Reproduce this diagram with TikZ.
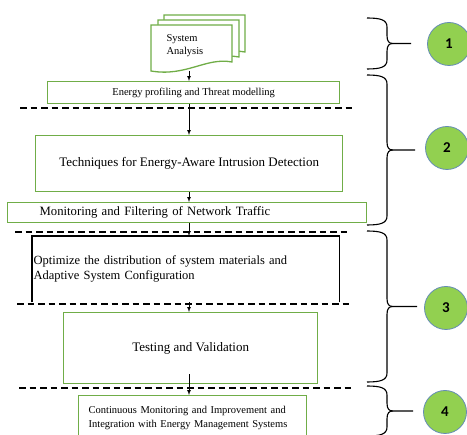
\documentclass[tikz,border=0pt]{standalone}
\usepackage{fontspec}
\setmainfont{Liberation Serif}
\newfontfamily\numfont{Carlito}
\usepackage{tikz}
\usetikzlibrary{positioning}
\definecolor{boxgreen}{RGB}{112,173,71}
\definecolor{phasefill}{RGB}{146,208,80}
\definecolor{phaseline}{RGB}{100,140,180}
\tikzset{
	stepbox/.style={draw=boxgreen, line width=1.3pt, anchor=north west, inner sep=0pt},
	phasecircle/.style={draw=phaseline, fill=phasefill, circle, line width=0.8pt, minimum size=43pt, inner sep=0pt, font=\numfont\bfseries\fontsize{15}{15}\selectfont},
	bracestyle/.style={draw=black, line width=1.1pt},
	separator/.style={draw=black, line width=1.2pt, dash pattern=on 6.5pt off 4pt},
	flow/.style={draw=black, line width=0.7pt, ->, >=latex}
}
\newcommand{\docsheet}[2]{
	% one sheet of the stack
	\path [draw=boxgreen, line width=1.3pt, fill=white] (#1,#2) -- (#1+81,#2) -- (#1+81,#2+37) .. controls (#1+55,#2+32) and (#1+35,#2+52) .. (#1,#2+46) -- cycle;
}
\newcommand{\phase}[4]{
	\node [phasecircle] (#1) at (#2, #3) {#4};
}
\newcommand{\phasebrace}[4]{
	% x, top, bottom, end of the tip
	\pgfmathsetmacro\bm{(#2+#3)/2}
	\path [bracestyle] (#1,#2) .. controls (#1+14,#2) and (#1+20,#2+2) .. (#1+20,#2+9) -- (#1+20,\bm-8) .. controls (#1+20,\bm-2) and (#1+22,\bm) .. (#1+26,\bm) -- (#4,\bm);
	\path [bracestyle] (#1+26,\bm) .. controls (#1+22,\bm) and (#1+20,\bm+2) .. (#1+20,\bm+8) -- (#1+20,#3-9) .. controls (#1+20,#3-2) and (#1+14,#3) .. (#1,#3);
}

\begin{document}
\begin{tikzpicture}[x=1pt, y=-1pt]
		\useasboundingbox (0,0) rectangle (467,435);
		\clip (0,0) rectangle (467,435);
		
		\docsheet{164}{15}
		\docsheet{158}{20}
		\docsheet{151}{25}
		\node [anchor=west, align=left, font=\fontsize{10.5}{13}\selectfont] (sysdoc) at (163,46) {System\\Analysis};
		\coordinate (docbot) at (189,71);
		
		\node [stepbox, minimum width=292pt, minimum height=22pt, font=\fontsize{10.5}{12}\selectfont] (energy) at (47,81) {Energy profiling and Threat modelling};
		\node [stepbox, minimum width=307pt, minimum height=56pt, font=\fontsize{13}{15}\selectfont] (techniques) at (35,135) {Techniques for Energy-Aware Intrusion Detection};
		\node [stepbox, minimum width=359pt, minimum height=20pt, inner xsep=32pt, text width=295pt, align=left, font=\fontsize{12.7}{15}\selectfont] (monitoring) at (7,202) {Monitoring and Filtering of Network Traffic};
		\node [stepbox, draw=none, minimum width=306pt, minimum height=65pt, inner xsep=1pt, text width=304pt, align=left, font=\fontsize{12.5}{15}\selectfont] (optimize) at (32,236) {Optimize the distribution of system materials and\\Adaptive System Configuration};
		\path [draw=black, line width=1.3pt] (optimize.south west) -- (optimize.north west);
		\path [draw=black, line width=1.3pt] (optimize.south east) -- (optimize.north east);
		\path [draw=black, line width=2.2pt] ([xshift=-0.6pt]optimize.north west) -- ([xshift=0.6pt]optimize.north east);
		\node [stepbox, minimum width=254pt, minimum height=71pt, font=\fontsize{13}{15}\selectfont] (testing) at (63,312) {Testing and Validation};
		\node [stepbox, minimum width=228pt, minimum height=45pt, inner xsep=10pt, text width=208pt, align=left, font=\fontsize{10.5}{14}\selectfont] (continuous) at (78,395) {Continuous Monitoring and Improvement and\\Integration with Energy Management Systems};
		
		\path [separator] (20,108) -- (353,108);
		\path [separator] (15,232) -- (348,232);
		\path [separator] (17,304) -- (350,304);
		\path [separator] (19,388) -- (352,388);
		
		\coordinate [yshift=10pt] (testexit) at (testing.south -| docbot);
		\path [flow] (docbot) -- (energy.north -| docbot);
		\path [flow] (energy.south -| docbot) -- (techniques.north -| docbot);
		\path [flow] (techniques.south -| docbot) -- (monitoring.north -| docbot);
		\path [flow] (monitoring.south -| docbot) -- (optimize.north -| docbot);
		\path [flow] (optimize.south -| docbot) -- (testing.north -| docbot);
		\path [flow] (testexit) -- (continuous.north -| docbot);
		
		\phasebrace{367}{18}{69}{411}
		\phasebrace{367}{75}{225}{415}
		\phasebrace{367}{231}{382}{417}
		\phasebrace{367}{386}{436}{413}
		
		\phase{p1}{449}{44}{1}
		\phase{p2}{447}{148}{2}
		\phase{p3}{446}{308}{3}
		\phase{p4}{445}{412}{4}
\end{tikzpicture}
\end{document}
